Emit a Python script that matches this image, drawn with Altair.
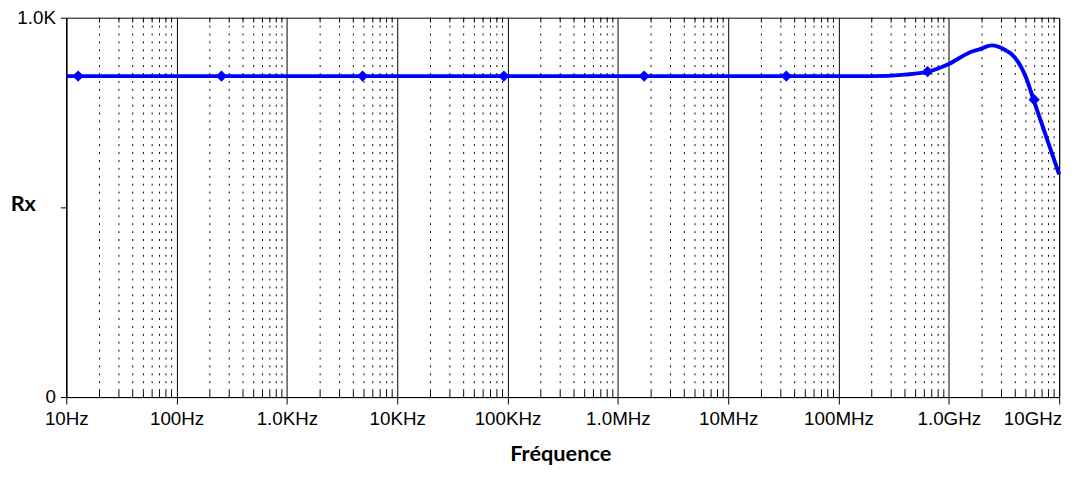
import altair as alt
import pandas as pd

# ---- data ----
FREQ_HZ = [10, 1e2, 1e3, 1e4, 1e5, 1e6, 1e7, 1e8, 2e8, 4e8, 6.3e8, 1e9,
           1.56e9, 1.91e9, 2.45e9, 3.15e9, 3.95e9, 5.06e9, 5.85e9, 1e10]
RX = [846, 846, 846, 846, 846, 846, 846, 846, 846, 850, 857, 878,
      909, 917, 927, 917, 896, 839, 784, 587]

MARKER_HZ = [12.8, 255, 4.85e3, 9.25e4, 1.73e6, 3.36e7, 6.41e8, 5.93e9]
MARKER_RX = [846, 846, 846, 846, 846, 846, 858, 784]

DECADES = [1e1, 1e2, 1e3, 1e4, 1e5, 1e6, 1e7, 1e8, 1e9, 1e10]
X_LABELS = ["10Hz", "100Hz", "1.0KHz", "10KHz", "100KHz", "1.0MHz",
            "10MHz", "100MHz", "1.0GHz", "10GHz"]
MINOR_MULT = [2, 3, 4, 5, 6, 7, 8, 9]
Y_TICKS = [0, 500, 1000]
Y_LABELS = ["0", "", "1.0K"]

# ---- tables ----
line_df = pd.DataFrame({"f": FREQ_HZ, "rx": RX})
mark_df = pd.DataFrame({"f": MARKER_HZ, "rx": MARKER_RX})
minor_df = pd.DataFrame({"f": [m * d for d in DECADES[:-1] for m in MINOR_MULT]})

W, H = 1005, 384
LABEL_FONT = "Liberation Sans"
TITLE_FONT = "Lato"

x_label_expr = "[" + ",".join("'%s'" % s for s in X_LABELS) + "][round(log(datum.value)/LN10)-1]"
y_label_expr = " : ".join("datum.value == %d ? '%s'" % (v, s) for v, s in zip(Y_TICKS, Y_LABELS)) + " : ''"

x_scale = alt.Scale(type="log", domain=[DECADES[0], DECADES[-1]], nice=False)
y_scale = alt.Scale(domain=[Y_TICKS[0], Y_TICKS[-1]], nice=False)

X_AXIS = alt.Axis(
    values=DECADES, labelExpr=x_label_expr, title="Fréquence",
    grid=True, gridColor="black", gridWidth=1, gridOpacity=1,
    domainColor="black", domainWidth=1, tickColor="black", tickSize=7, tickWidth=1,
    labelFont=LABEL_FONT, labelFontSize=19, labelColor="black", labelPadding=6,
    labelFlush=False, labelOverlap=False,
    labelOffset={"condition": {"test": "datum.value >= 1e10", "value": -27}, "value": 0},
    titleFont=TITLE_FONT, titleFontSize=22, titleFontWeight="bold", titleColor="black",
    titleX=500, titleY=64, titleAnchor="start", titleAlign="center", titleBaseline="alphabetic",
)
Y_AXIS = alt.Axis(
    values=Y_TICKS, labelExpr=y_label_expr, title="Rx", grid=False,
    domainColor="black", domainWidth=1, tickColor="black", tickSize=6, tickWidth=1,
    labelFont=LABEL_FONT, labelFontSize=19, labelColor="black", labelPadding=5,
    titleFont=TITLE_FONT, titleFontSize=22, titleFontWeight="bold", titleColor="black",
    titleAngle=0, titleX=-44, titleY=188, titleAlign="center", titleBaseline="middle",
)

minor_grid = alt.Chart(minor_df).mark_rule(
    color="black", strokeWidth=1, strokeDash=[2, 6]
).encode(x=alt.X("f:Q", scale=x_scale, axis=X_AXIS))

minor_top = alt.Chart(minor_df).mark_rule(color="black", strokeWidth=1).encode(
    x=alt.X("f:Q", scale=x_scale, axis=X_AXIS),
    y=alt.value(0), y2=alt.value(5),
)
minor_bottom = alt.Chart(minor_df).mark_rule(color="black", strokeWidth=1).encode(
    x=alt.X("f:Q", scale=x_scale, axis=X_AXIS),
    y=alt.value(H - 6), y2=alt.value(H),
)

line = alt.Chart(line_df).mark_line(
    color="#0000FF", strokeWidth=4, interpolate="monotone"
).encode(
    x=alt.X("f:Q", scale=x_scale, axis=X_AXIS),
    y=alt.Y("rx:Q", scale=y_scale, axis=Y_AXIS),
)

markers = alt.Chart(mark_df).mark_point(
    shape="diamond", filled=True, color="#0000FF", size=130, opacity=1
).encode(
    x=alt.X("f:Q", scale=x_scale, axis=X_AXIS),
    y=alt.Y("rx:Q", scale=y_scale, axis=Y_AXIS),
)

chart = alt.layer(minor_grid, minor_top, minor_bottom, line, markers).properties(
    width=W, height=H,
    autosize=alt.AutoSizeParams(type="none"),
    padding={"left": 59, "top": 7, "right": 14, "bottom": 71},
    background="white",
).configure_view(stroke="black", strokeWidth=1)

chart.save("out.html", embed_options={"renderer": "svg", "actions": False})
